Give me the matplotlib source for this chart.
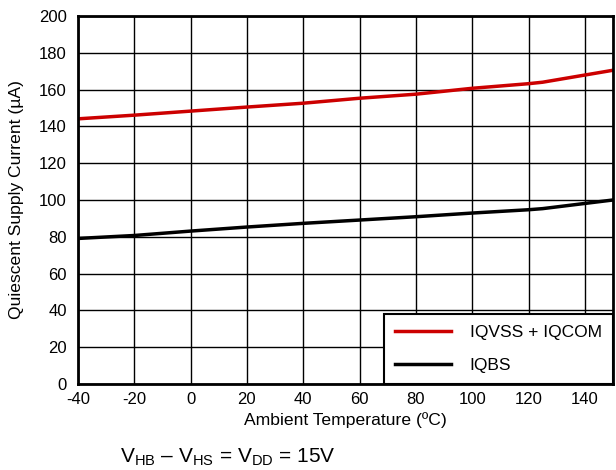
import numpy as np
import matplotlib.pyplot as plt

plt.rcParams['font.family'] = ['Liberation Sans', 'DejaVu Sans']
plt.rcParams['axes.unicode_minus'] = False
plt.rcParams['mathtext.fontset'] = 'custom'
plt.rcParams['mathtext.rm'] = 'Liberation Sans'

temp = [-40, -20, 0, 20, 40, 60, 80, 100, 120, 125, 150]
iqvss_iqcom = [144.1, 146.1, 148.3, 150.5, 152.6, 155.3, 157.5, 160.7, 163.2, 164.0, 170.5]
iqbs = [79.1, 80.7, 83.1, 85.3, 87.3, 89.1, 90.9, 92.9, 94.7, 95.3, 100.0]

fig = plt.figure(figsize=(6.16, 4.70), dpi=100)
ax = fig.add_axes([0.1266, 0.183, 0.8685, 0.783])

ax.plot(temp, iqvss_iqcom, color='#cc0000', linewidth=2.5, label='IQVSS + IQCOM')
ax.plot(temp, iqbs, color='black', linewidth=2.5, label='IQBS')

ax.set_xlim(-40, 150)
ax.set_ylim(0, 200)
ax.set_xticks(np.arange(-40, 141, 20))
ax.set_yticks(np.arange(0, 201, 20))
ax.grid(True, color='black', linewidth=1)
ax.tick_params(length=0, labelsize=12)
ax.tick_params(axis='x', pad=5.5)
ax.tick_params(axis='y', pad=8)
for s in ax.spines.values():
    s.set_linewidth(2)

ax.set_xlabel('Ambient Temperature (ºC)', fontsize=12.6, va='center')
ax.xaxis.set_label_coords(0.5, -0.098)
ax.set_ylabel('Quiescent Supply Current (µA)', fontsize=12.6, va='center')
ax.yaxis.set_label_coords(-0.114, 0.5)

leg = ax.legend(loc='lower right', fontsize=12.5, fancybox=False, framealpha=1,
                edgecolor='black', borderpad=0.65, labelspacing=1.0,
                handlelength=3.2, handletextpad=1.1, borderaxespad=0)
leg.get_frame().set_linewidth(1.5)

fig.text(0.37, 0.017, r'V$_{\mathrm{HB}}$ – V$_{\mathrm{HS}}$ = V$_{\mathrm{DD}}$ = 15V',
         fontsize=15, ha='center', va='baseline')

plt.savefig('out.png', dpi=100)
